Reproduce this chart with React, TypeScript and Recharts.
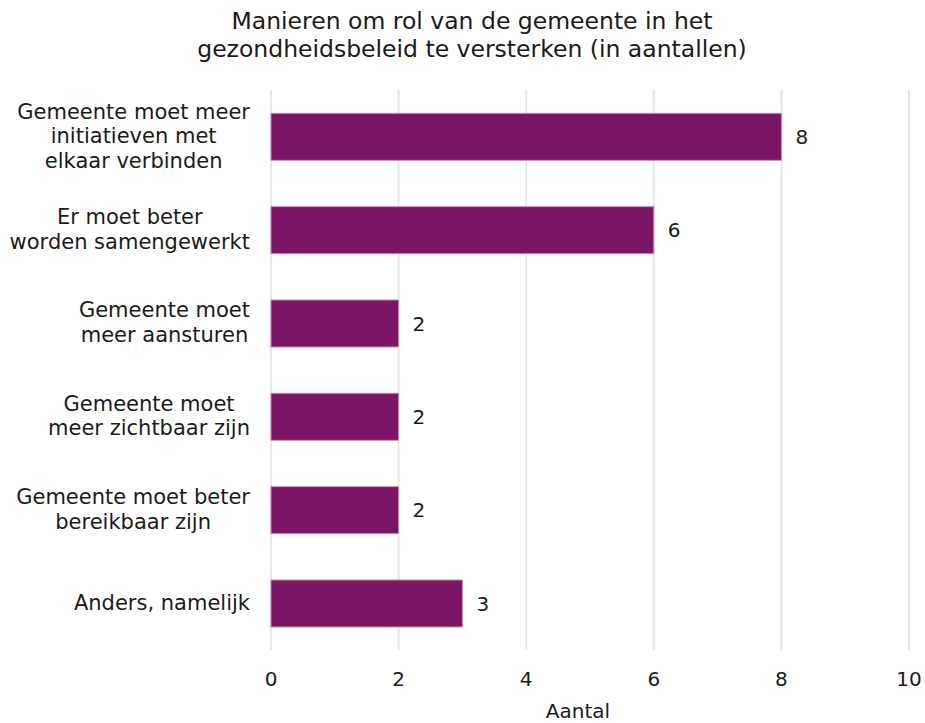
import React from 'react'
import { BarChart, Bar, XAxis, YAxis, CartesianGrid, LabelList } from 'recharts'

const categories = [
  'Gemeente moet meer\ninitiatieven met\nelkaar verbinden',
  'Er moet beter\nworden samengewerkt',
  'Gemeente moet\nmeer aansturen',
  'Gemeente moet\nmeer zichtbaar zijn',
  'Gemeente moet beter\nbereikbaar zijn',
  'Anders, namelijk',
]
const counts = [8, 6, 2, 2, 2, 3]
const xTicks = [0, 2, 4, 6, 8, 10]
const titleLines = [
  'Manieren om rol van de gemeente in het',
  'gezondheidsbeleid te versterken (in aantallen)',
]

const FONT = '"DejaVu Sans", Verdana, sans-serif'
const FS = 20
const CAT_FS = 21
const INK = '#1a1a1a'
const PURPLE = '#7a1665'

const data = categories.map((name, i) => ({ name, value: counts[i] }))

let ctx: CanvasRenderingContext2D | null = null
function textWidth(s: string) {
  if (!ctx) ctx = document.createElement('canvas').getContext('2d')
  if (!ctx) return s.length * CAT_FS * 0.6
  ctx.font = `${CAT_FS}px ${FONT}`
  return ctx.measureText(s).width
}

function CategoryTick({ x, y, payload }: any) {
  const lines: string[] = String(payload.value).split('\n')
  const blockW = Math.max(...lines.map(textWidth))
  const right = x - 19
  const cx = right - blockW / 2
  const lh = 24.5
  const start = y - 1 - ((lines.length - 1) * lh) / 2
  return (
    <text x={cx} y={start} textAnchor="middle" fontFamily={FONT} fontSize={CAT_FS} fill={INK}>
      {lines.map((l, i) => (
        <tspan key={i} x={cx} y={start + i * lh} dy="0.35em">
          {l}
        </tspan>
      ))}
    </text>
  )
}

function ValueTick({ x, y, payload }: any) {
  return (
    <text x={x} y={y + 27} dy="0.35em" textAnchor="middle" fontFamily={FONT} fontSize={FS} fill={INK}>
      {payload.value}
    </text>
  )
}

function AxisTitle({ viewBox }: any) {
  const cx = viewBox.x + viewBox.width / 2 - 12
  return (
    <text x={cx} y={711} dy="0.35em" textAnchor="middle" fontFamily={FONT} fontSize={FS} fill={INK}>
      Aantal
    </text>
  )
}

export default function App() {
  return (
    <div style={{ position: 'absolute', left: 0, top: 0, width: 925, height: 723, background: '#fff' }}>
      <div
        style={{
          position: 'absolute',
          left: 0,
          top: 8,
          width: 944,
          textAlign: 'center',
          fontFamily: FONT,
          fontSize: 23.5,
          lineHeight: '27.5px',
          color: INK,
        }}
      >
        {titleLines.map((t) => (
          <div key={t}>{t}</div>
        ))}
      </div>
      <BarChart
        width={925}
        height={723}
        data={data}
        layout="vertical"
        margin={{ top: 90, right: 16, bottom: 0, left: 0 }}
        barCategoryGap="25%"
      >
        <CartesianGrid horizontal={false} stroke="#e6e6e6" strokeWidth={2} />
        <XAxis
          type="number"
          domain={[0, 10]}
          ticks={xTicks}
          axisLine={false}
          tickLine={false}
          tickSize={0}
          height={73}
          tick={<ValueTick />}
          label={<AxisTitle />}
        />
        <YAxis
          type="category"
          dataKey="name"
          width={271}
          axisLine={false}
          tickLine={false}
          tickSize={0}
          interval={0}
          tick={<CategoryTick />}
        />
        <Bar dataKey="value" fill={PURPLE} stroke="#c48bb8" strokeWidth={1} isAnimationActive={false}>
          <LabelList
            dataKey="value"
            position="right"
            offset={14}
            style={{ fontFamily: FONT, fontSize: FS, fill: INK }}
          />
        </Bar>
      </BarChart>
    </div>
  )
}
